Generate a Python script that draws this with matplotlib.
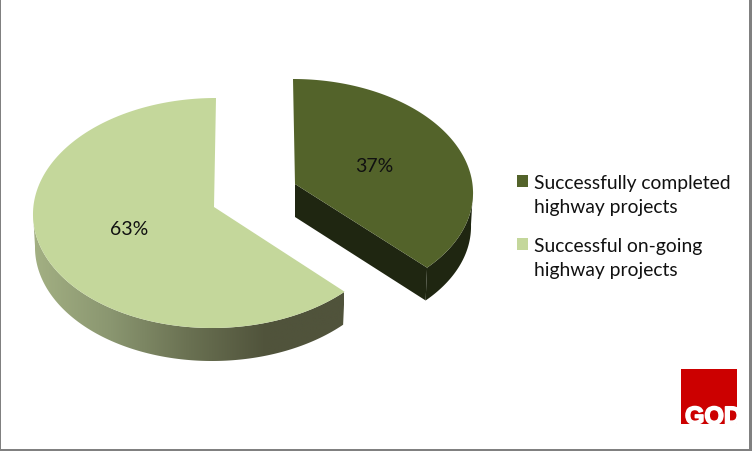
import numpy as np
import matplotlib
matplotlib.use('Agg')
import matplotlib.pyplot as plt
import matplotlib.patheffects as pe
from matplotlib.patches import Polygon, Rectangle
from matplotlib.colors import LinearSegmentedColormap

labels = ['Successfully completed\nhighway projects', 'Successful on-going\nhighway projects']
shares = [37, 63]
colors = ['#53632A', '#C4D79B']
wall_dark = '#1F2611'
wall_stops = ['#A3B083', '#8A9670', '#6A7152', '#50533B', '#50533B']

plt.rcParams['font.family'] = ['Lato', 'DejaVu Sans']

fig = plt.figure(figsize=(7.52, 4.52), dpi=100)
ax = fig.add_axes([0, 0, 1, 1])
ax.axis('off')


def rim(cx, cy, rx, ry, k, a0, a1, n=200):
	# angle in degrees, clockwise from the top of the ellipse
	# k leans the ellipse a bit, the original has some perspective
	t = np.radians(np.linspace(a0, a1, n))
	return np.column_stack((cx + rx*np.sin(t) + k*np.cos(t), cy - ry*np.cos(t)))


split = 360.*shares[0]/sum(shares)

# dark slice, pulled out to the right
apex = np.array([295., 185.])
top = rim(296., 192., 177., 112., -3., 0., split)
top_side = rim(296., 192., 177., 112., -3., 90., split)
low = rim(296., 225.5, 175., 111., -3., 90., split)
ax.add_patch(Polygon(np.vstack((apex, apex + [0, 33], low[-1:], top[-1:])), closed=True, fc=wall_dark, ec='none', zorder=1))
ax.add_patch(Polygon(np.vstack((top_side, low[::-1])), closed=True, fc=wall_dark, ec='none', zorder=1))
ax.add_patch(Polygon(np.vstack((apex, top)), closed=True, fc=colors[0], ec='none', zorder=2))

# light slice, the wall has a gradient
apex2 = np.array([214., 208.])
top2 = rim(214., 214., 181., 115., 2., split, 360.)
side2 = rim(214., 214., 181., 115., 2., split, 270.)
low2 = rim(214., 247., 179., 115., 2., split, 270.)
wall = Polygon(np.vstack((side2, low2[::-1])), closed=True, fc='none', ec='none')
ax.add_patch(wall)
cmap = LinearSegmentedColormap.from_list('wall', wall_stops)
img = ax.imshow(np.linspace(0, 1, 256).reshape(1, -1), extent=(33, 344, 365, 215), aspect='auto', cmap=cmap, zorder=1)
img.set_clip_path(wall)
ax.add_patch(Polygon(np.vstack((apex2, top2)), closed=True, fc=colors[1], ec='none', zorder=2))

ax.text(374.5, 167, '%d%%' % shares[0], fontsize=14, color='#111111', ha='center', va='center', zorder=3)
ax.text(129, 230, '%d%%' % shares[1], fontsize=14, color='#111111', ha='center', va='center', zorder=3)

# legend
ax.add_patch(Rectangle((517, 176), 11, 12, fc=colors[0], ec='none'))
ax.add_patch(Rectangle((517, 239), 11, 12, fc=colors[1], ec='none'))
ax.text(534, 195.5, labels[0], fontsize=13.9, color='#111111', ha='left', va='center', linespacing=1.5)
ax.text(534, 258.5, labels[1], fontsize=13.9, color='#111111', ha='left', va='center', linespacing=1.5)

# logo
logo_box = Rectangle((681, 370), 56, 55, fc='#CC0000', ec='none')
ax.add_patch(logo_box)
logo = ax.text(685, 425, 'GOD', fontsize=18, fontweight='bold', color='white', family=['Liberation Sans', 'DejaVu Sans'], ha='left', va='baseline')
logo.set_path_effects([pe.withStroke(linewidth=1.2, foreground='white')])
logo.set_clip_path(logo_box)

# frame of the slide, thicker on the right and at the bottom
ax.add_patch(Rectangle((0, 0), 752, 452, fc='#808080', ec='none', zorder=-2))
ax.add_patch(Rectangle((1, 1), 748, 449, fc='white', ec='none', zorder=-1))

ax.set_xlim(0, 752)
ax.set_ylim(452, 0)

fig.savefig('out.png', dpi=100)
